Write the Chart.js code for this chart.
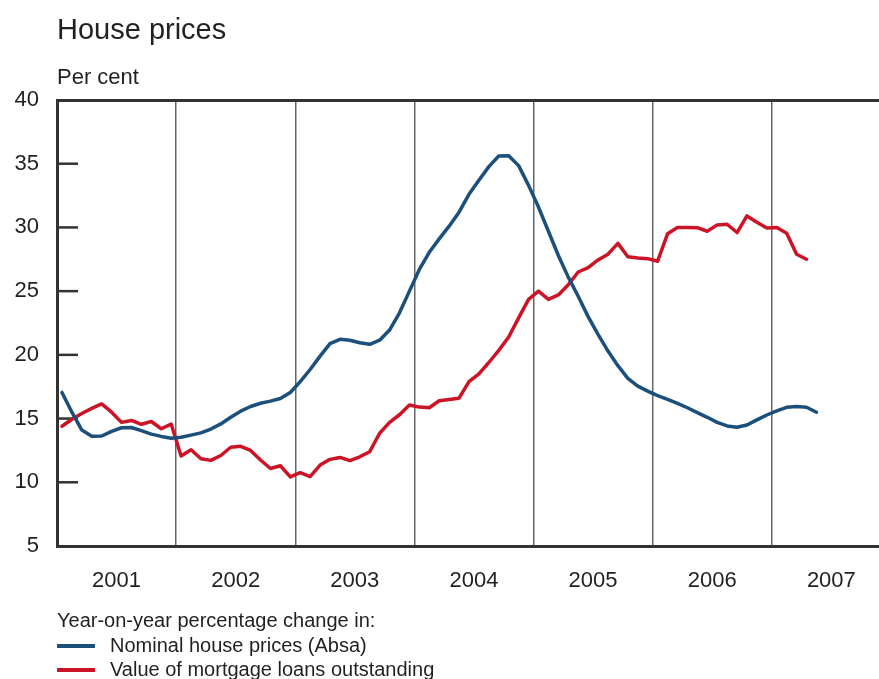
<!DOCTYPE html>
<html>
<head>
<meta charset="utf-8">
<script src="https://cdn.jsdelivr.net/npm/chart.js@4/dist/chart.umd.min.js"></script>
<style>
html,body{margin:0;padding:0;background:#fff;}
#wrap{position:relative;width:879px;height:679px;overflow:hidden;}
</style>
</head>
<body>
<div id="wrap"><canvas id="c" width="879" height="679"></canvas></div>
<script>
const years = ['2001','2002','2003','2004','2005','2006','2007'];
const yTicks = [5,10,15,20,25,30,35,40];
const titleText = 'House prices';
const unitText = 'Per cent';
const legendTitle = 'Year-on-year percentage change in:';
const seriesNames = ['Nominal house prices (Absa)','Value of mortgage loans outstanding'];
// Monthly values, Jan 2001 onwards
const housePrices = [
  17.05,15.5,14.1,13.62,13.63,14.0,14.28,14.3,14.05,13.78,13.6,13.45,
  13.53,13.7,13.88,14.18,14.58,15.1,15.58,15.95,16.2,16.37,16.58,17.05,
  17.9,18.85,19.9,20.88,21.22,21.15,20.95,20.83,21.15,21.95,23.3,25.0,
  26.7,28.05,29.1,30.1,31.2,32.6,33.7,34.77,35.6,35.62,34.85,33.3,
  31.6,29.7,27.8,26.1,24.6,23.0,21.6,20.3,19.15,18.15,17.55,17.15,
  16.8,16.5,16.2,15.85,15.47,15.1,14.7,14.42,14.32,14.5,14.9,15.28,
  15.6,15.88,15.94,15.89,15.5
];
const mortgageLoans = [
  14.4,14.95,15.4,15.8,16.15,15.5,14.7,14.85,14.55,14.77,14.2,14.57,
  12.06,12.55,11.85,11.72,12.1,12.75,12.82,12.5,11.75,11.08,11.3,10.42,
  10.75,10.45,11.35,11.8,11.95,11.7,12.0,12.4,13.85,14.7,15.3,16.07,
  15.9,15.85,16.4,16.5,16.6,17.9,18.5,19.4,20.35,21.4,22.9,24.35,
  25.0,24.35,24.7,25.5,26.5,26.85,27.45,27.9,28.75,27.7,27.6,27.55,
  27.35,29.5,30.0,30.0,29.98,29.7,30.2,30.25,29.6,30.9,30.4,29.95,
  30.0,29.55,27.9,27.5
];

const BLUE = '#1b4f7c';
const RED = '#cc1426';
const TEXT = '#231f20';
const FONT = "'Liberation Sans', Arial, Helvetica, sans-serif";
Chart.defaults.font.family = FONT;

const toPts = arr => arr.map((v,i)=>({x:i+0.5,y:v}));
const X_MAX = 82.8;

const decor = {
  id:'decor',
  beforeDatasetsDraw(chart){
    const ctx = chart.ctx, a = chart.chartArea, ys = chart.scales.y;
    ctx.save();
    ctx.strokeStyle = '#333'; ctx.lineWidth = 2.5;
    ys.ticks.forEach(t=>{
      if (t.value<=ys.min || t.value>=ys.max) return;
      const py = ys.getPixelForValue(t.value);
      ctx.beginPath(); ctx.moveTo(a.left, py); ctx.lineTo(a.left+21, py); ctx.stroke();
    });
    ctx.restore();
  },
  afterDraw(chart){
    const ctx = chart.ctx, a = chart.chartArea;
    ctx.save();
    ctx.fillStyle = TEXT; ctx.textBaseline='middle'; ctx.textAlign='left';
    ctx.font = '29px '+FONT;
    ctx.fillText(titleText, a.left, 31);
    ctx.font = '22px '+FONT;
    ctx.fillText(unitText, a.left, 78);
    ctx.font = '20px '+FONT;
    ctx.fillText(legendTitle, a.left, 621);
    const rows = [646, 670];
    chart.data.datasets.forEach((ds,i)=>{
      ctx.strokeStyle = ds.borderColor; ctx.lineWidth = 4;
      ctx.beginPath(); ctx.moveTo(a.left, rows[i]); ctx.lineTo(a.left+38, rows[i]); ctx.stroke();
      ctx.fillText(ds.label, a.left+53, rows[i]);
    });
    ctx.restore();
  }
};

new Chart(document.getElementById('c'), {
  type:'line',
  data:{
    datasets:[
      {label:seriesNames[0], data:toPts(housePrices), borderColor:BLUE, borderWidth:3.5, pointRadius:0, tension:0, fill:false, borderJoinStyle:'round', borderCapStyle:'round'},
      {label:seriesNames[1], data:toPts(mortgageLoans), borderColor:RED, borderWidth:3.5, pointRadius:0, tension:0, fill:false, borderJoinStyle:'round', borderCapStyle:'round'}
    ]
  },
  options:{
    responsive:false, animation:false, events:[],
    layout:{padding:{left:0,right:0,top:100,bottom:0}},
    plugins:{legend:{display:false}, tooltip:{enabled:false}, title:{display:false}},
    scales:{
      x:{
        type:'linear', position:'bottom', min:0, max:X_MAX,
        afterBuildTicks(s){ s.ticks = years.map((y,i)=>({value:i*12+6})); },
        ticks:{autoSkip:false, maxRotation:0, padding:22, color:TEXT, font:{size:22},
          callback:(v)=>years[Math.round((v-6)/12)]},
        grid:{drawOnChartArea:false, drawTicks:false, color:'rgba(0,0,0,0)'},
        border:{display:true, color:'#333', width:3},
        afterFit(s){ s.height = 133; }
      },
      xg:{
        type:'linear', position:'top', min:0, max:X_MAX,
        afterBuildTicks(s){ s.ticks = years.slice(1).map((y,i)=>({value:(i+1)*12})); },
        ticks:{display:false},
        grid:{color:'#666', lineWidth:1.5, drawTicks:false},
        border:{display:true, color:'#333', width:3},
        afterFit(s){ s.height = 0; }
      },
      y:{
        min:5, max:40,
        afterBuildTicks(s){ s.ticks = yTicks.map(v=>({value:v})); },
        ticks:{padding:18, color:TEXT, font:{size:22}},
        grid:{drawOnChartArea:false, drawTicks:false, color:'rgba(0,0,0,0)'},
        border:{display:true, color:'#333', width:3},
        afterFit(s){ s.width = 57; }
      }
    }
  },
  plugins:[decor]
});
</script>
</body>
</html>
